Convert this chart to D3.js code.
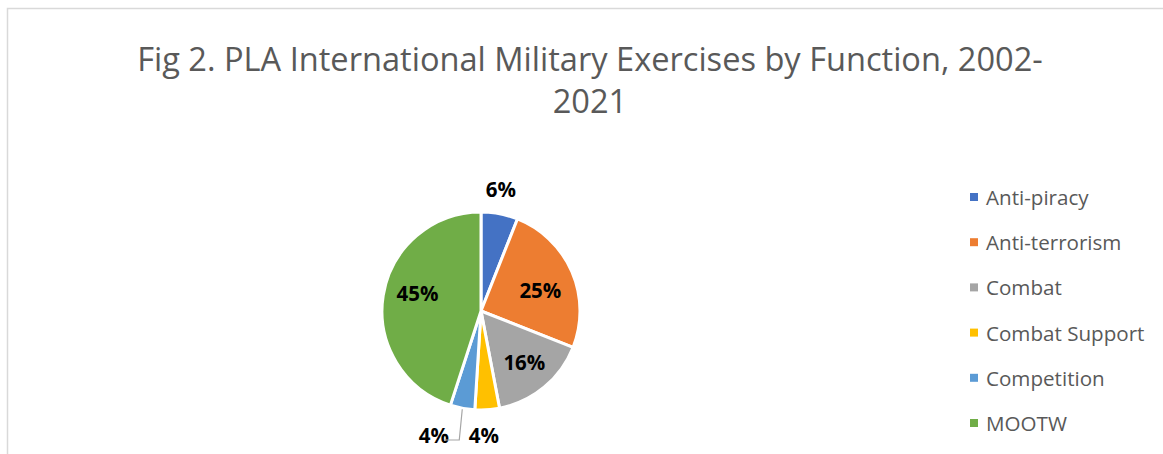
<!DOCTYPE html>
<html><head><meta charset="utf-8">
<script src="https://cdn.jsdelivr.net/npm/d3@7"></script>
<style>html,body{margin:0;padding:0;background:#fff;} svg{display:block;}</style>
</head><body>
<svg id="chart" width="1163" height="454"></svg>
<script>
const categories = ["Anti-piracy","Anti-terrorism","Combat","Combat Support","Competition","MOOTW"];
const values = [6,25,16,4,4,45];
const colors = ["#4472C4","#ED7D31","#A5A5A5","#FFC000","#5B9BD5","#70AD47"];
const titleLines = ["Fig 2. PLA International Military Exercises by Function, 2002-","2021"];

const svg = d3.select("#chart");
const font = "'Open Sans', Lato, sans-serif";

// chart border
svg.append("path").attr("d","M7.5,454 V8.5 H1163").attr("fill","none").attr("stroke","#d9d9d9").attr("stroke-width",1.5);

// title
svg.append("g").selectAll("text").data(titleLines).join("text")
  .attr("x",590).attr("y",(d,i)=>71+i*42)
  .attr("text-anchor","middle").attr("font-family",font).attr("font-size",32.6)
  .attr("fill","#595959").text(d=>d);

const cx=481, cy=311, r=99;
const total = d3.sum(values);
const pie = d3.pie().sort(null).value(d=>d)(values);
const arc = d3.arc().innerRadius(0).outerRadius(r);
const g = svg.append("g").attr("transform",`translate(${cx},${cy})`);
g.selectAll("path").data(pie).join("path")
  .attr("d",arc).attr("fill",(d,i)=>colors[i]).attr("stroke","#fff").attr("stroke-width",3).attr("stroke-linejoin","round");

// label positions (radial distance factors + nudges)
const labelR = [1.23,0.62,0.56,1.25,1.25,0.65];
const labelOffsets = [[-3,-2],[3,3],[8,8],[-5,0],[-24,2],[0,-8]];
g.selectAll("text.lbl").data(pie).join("text").attr("class","lbl")
  .attr("transform",(d,i)=>{
    const a=(d.startAngle+d.endAngle)/2;
    const rr=r*labelR[i];
    return `translate(${Math.sin(a)*rr+labelOffsets[i][0]},${-Math.cos(a)*rr+labelOffsets[i][1]})`;
  })
  .attr("text-anchor","middle").attr("dominant-baseline","central")
  .attr("font-family",font).attr("font-size",20.5).attr("font-weight","bold").attr("fill","#000")
  .text(d=>Math.round(d.data/total*100)+"%");

// leader line for Competition
const cp = pie[4]; const ca=(cp.startAngle+cp.endAngle)/2;
const p0=[Math.sin(ca)*(r+1), -Math.cos(ca)*(r+1)];
g.append("path").attr("d",`M${p0[0]},${p0[1]} L${p0[0]-3},${129} L${p0[0]-18},${129}`)
  .attr("fill","none").attr("stroke","#A5A5A5").attr("stroke-width",1.2);

// legend
const lg = svg.append("g").attr("transform","translate(970,197)");
const row = lg.selectAll("g").data(categories).join("g").attr("transform",(d,i)=>`translate(0,${i*45.2})`);
row.append("rect").attr("x",0).attr("y",-4).attr("width",8).attr("height",8).attr("fill",(d,i)=>colors[i]);
row.append("text").attr("x",16).attr("y",0).attr("dominant-baseline","central")
  .attr("font-family",font).attr("font-size",20.6).attr("fill","#595959").text(d=>d);
</script>
</body></html>
